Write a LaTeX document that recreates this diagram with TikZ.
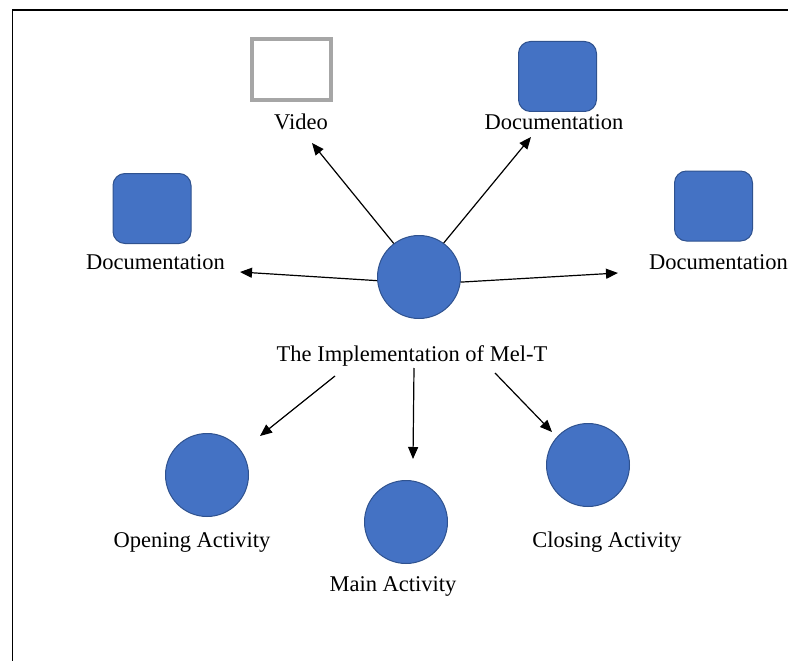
\documentclass[tikz,border=0pt]{standalone}
\usepackage{fontspec}
\setmainfont{Liberation Serif}
\usetikzlibrary{arrows.meta}
\definecolor{fillblue}{HTML}{4472C4}
\definecolor{edgeblue}{HTML}{2F528F}
\definecolor{boxgray}{HTML}{A6A6A6}
\begin{document}
\begin{tikzpicture}[x=1pt,y=-1pt,
  lbl/.style={font=\fontsize{22.5}{26}\selectfont, inner sep=0pt, anchor=base},
  blob/.style={circle, fill=fillblue, draw=edgeblue, line width=1pt, minimum size=83pt, inner sep=0pt},
  docbox/.style={rounded corners=12pt, fill=fillblue, draw=edgeblue, line width=1pt, minimum width=78pt, minimum height=70pt, inner sep=0pt},
  vidbox/.style={draw=boxgray, line width=4pt, fill=white, minimum width=79pt, minimum height=61pt, inner sep=0pt},
  arr/.style={-{Triangle[length=12pt,width=10pt]}, line width=1.2pt}]
\useasboundingbox (0,0) rectangle (788,661);
\clip (0,0) rectangle (788,661);
% frame
\draw[line width=1.5pt] (12.5,662) -- (12.5,10) -- (792,10);
% nodes
\node[vidbox] (vid) at (291,70) {};
\node[lbl] (vidl) at (301,129) {Video};
\node[docbox] (dtr) at (557.5,76.5) {};
\node[lbl] (dtrl) at (554,129) {Documentation};
\node[docbox] (dl) at (152,208.5) {};
\node[lbl] (dll) at (155.5,269) {Documentation};
\node[docbox] (dr) at (713.5,206) {};
\node[lbl, anchor=base west] (drl) at (649,269) {Documentation};
\node[blob] (c) at (419,277) {};
\node[lbl] (impl) at (412,361) {The Implementation of Mel-T};
\node[blob] (open) at (207,475) {};
\node[lbl] (openl) at (192,547) {Opening Activity};
\node[blob] (main) at (406,522) {};
\node[lbl] (mainl) at (393,591) {Main Activity};
\node[blob] (close) at (588,465) {};
\node[lbl] (closel) at (607,547) {Closing Activity};
% arrow end points
\coordinate (tvid) at (312,143);
\coordinate (tdtr) at (531,137);
\coordinate (tdl) at (240,272);
\coordinate (tdr) at (618,273);
\coordinate (sopen) at (335,376);
\coordinate (topen) at (260,436);
\coordinate (smain) at (414,368);
\coordinate (tmain) at (413,459);
\coordinate (sclose) at (495,373);
\coordinate (tclose) at (552,432);
% connectors
\draw[arr] (c.127) -- (tvid);
\draw[arr] (c.54) -- (tdtr);
\draw[arr] (c.185) -- (tdl);
\draw[arr] (c.353) -- (tdr);
\draw[arr] (sopen) -- (topen);
\draw[arr] (smain) -- (tmain);
\draw[arr] (sclose) -- (tclose);
\end{tikzpicture}
\end{document}
